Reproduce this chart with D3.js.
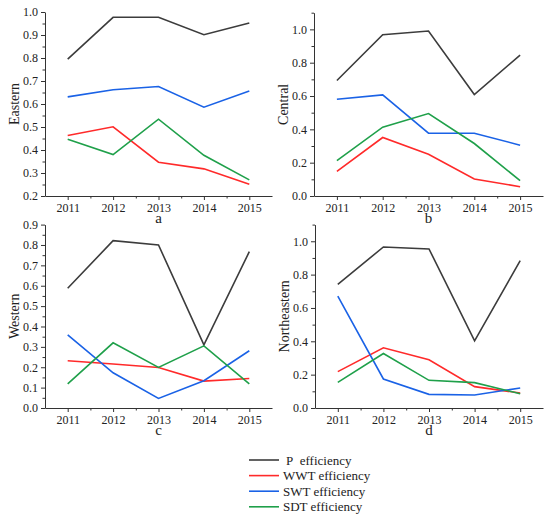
<!DOCTYPE html>
<html>
<head>
<meta charset="utf-8">
<script src="https://d3js.org/d3.v7.min.js"></script>
<style>
  body { margin: 0; background: #fff; }
</style>
</head>
<body>
<div id="chart"></div>
<script>
var serif = "'Liberation Serif', 'Times New Roman', 'DejaVu Serif', serif";

// years on the x axis
var years = [2011, 2012, 2013, 2014, 2015];

// series names + colours
var seriesNames = ["P\u00a0\u00a0efficiency", "WWT efficiency", "SWT efficiency", "SDT efficiency"];
var seriesColors = ["#3c3c3c", "#ff2a2a", "#1a62e6", "#1fa04a"];

// panel a - Eastern
var eastP   = [0.795, 0.977, 0.977, 0.901, 0.952];
var eastWWT = [0.463, 0.501, 0.347, 0.318, 0.251];
var eastSWT = [0.631, 0.662, 0.676, 0.586, 0.656];
var eastSDT = [0.447, 0.380, 0.534, 0.377, 0.270];

// panel b - Central
var centP   = [0.693, 0.968, 0.990, 0.609, 0.846];
var centWWT = [0.148, 0.351, 0.251, 0.102, 0.056];
var centSWT = [0.581, 0.607, 0.377, 0.377, 0.305];
var centSDT = [0.212, 0.413, 0.495, 0.315, 0.092];

// panel c - Western
var westP   = [0.588, 0.821, 0.800, 0.310, 0.767];
var westWWT = [0.232, 0.216, 0.199, 0.132, 0.145];
var westSWT = [0.359, 0.173, 0.047, 0.134, 0.281];
var westSDT = [0.118, 0.320, 0.199, 0.305, 0.118];

// panel d - Northeastern
var neP   = [0.741, 0.966, 0.954, 0.403, 0.884];
var neWWT = [0.218, 0.361, 0.289, 0.128, 0.090];
var neSWT = [0.671, 0.174, 0.082, 0.078, 0.120];
var neSDT = [0.154, 0.327, 0.166, 0.152, 0.086];

var panels = [
  {name: "Eastern", letter: "a", x0: 45, x1: 272, y0: 12, y1: 196, yDom: [0.2, 1.0], step: 0.1,
   series: [eastP, eastWWT, eastSWT, eastSDT]},
  {name: "Central", letter: "b", x0: 314, x1: 543, y0: 12.7, y1: 196, yDom: [0, 1.1], step: 0.2,
   series: [centP, centWWT, centSWT, centSDT]},
  {name: "Western", letter: "c", x0: 45, x1: 272, y0: 224.6, y1: 408, yDom: [0, 0.9], step: 0.1,
   series: [westP, westWWT, westSWT, westSDT]},
  {name: "Northeastern", letter: "d", x0: 315, x1: 543, y0: 224.6, y1: 408, yDom: [0, 1.1], step: 0.2,
   series: [neP, neWWT, neSWT, neSDT]}
];

var svg = d3.select("#chart").append("svg")
    .attr("width", 550)
    .attr("height", 524);

panels.forEach(function(p) {
  var x = d3.scaleLinear().domain([2010.5, 2015.5]).range([p.x0, p.x1]);
  var y = d3.scaleLinear().domain(p.yDom).range([p.y1, p.y0]);

  var g = svg.append("g");

  var yTicks = d3.range(p.yDom[0], p.yDom[1] + 1e-9, p.step).map(function(v) { return +v.toFixed(2); });
  var yMinor = d3.range(p.yDom[0] + p.step / 2, p.yDom[1] + 1e-9, p.step);
  var xMinor = [2011.5, 2012.5, 2013.5, 2014.5];

  // minor ticks
  g.append("g").attr("class", "axis")
    .attr("transform", "translate(" + p.x0 + ",0)")
    .call(d3.axisLeft(y).tickValues(yMinor).tickSize(2.5).tickFormat(""))
    .select(".domain").remove();
  g.append("g").attr("class", "axis")
    .attr("transform", "translate(0," + p.y1 + ")")
    .call(d3.axisBottom(x).tickValues(xMinor).tickSize(2.5).tickFormat(""))
    .select(".domain").remove();

  var yAxis = g.append("g").attr("class", "axis")
    .attr("transform", "translate(" + p.x0 + ",0)")
    .call(d3.axisLeft(y).tickValues(yTicks).tickSize(4).tickSizeOuter(0).tickPadding(3)
      .tickFormat(d3.format(".1f")));

  var xAxis = g.append("g").attr("class", "axis")
    .attr("transform", "translate(0," + p.y1 + ")")
    .call(d3.axisBottom(x).tickValues(years).tickSize(4).tickSizeOuter(0).tickPadding(3)
      .tickFormat(d3.format("d")));

  g.selectAll(".axis").attr("font-family", serif);
  g.selectAll(".axis text").attr("font-family", serif).attr("font-size", 12).attr("fill", "#222");
  g.selectAll(".axis path, .axis line").attr("stroke", "#333").attr("stroke-width", 1);

  // lines
  var line = d3.line()
    .x(function(d, i) { return x(years[i]); })
    .y(function(d) { return y(d); });

  p.series.forEach(function(s, i) {
    g.append("path")
      .datum(s)
      .attr("d", line)
      .attr("fill", "none")
      .attr("stroke", seriesColors[i])
      .attr("stroke-width", 1.6);
  });

  // y title
  g.append("text")
    .attr("transform", "translate(" + (p.x0 - 26) + "," + ((p.y0 + p.y1) / 2) + ") rotate(-90)")
    .attr("text-anchor", "middle")
    .attr("font-family", serif)
    .attr("font-size", 14)
    .attr("fill", "#222")
    .text(p.name);

  // panel letter
  g.append("text")
    .attr("x", (p.x0 + p.x1) / 2)
    .attr("y", p.y1 + 27)
    .attr("text-anchor", "middle")
    .attr("font-family", serif)
    .attr("font-size", 15)
    .attr("fill", "#222")
    .text(p.letter);
});

// legend
var legend = svg.append("g");
seriesNames.forEach(function(n, i) {
  var yy = 460 + i * 15.6;
  legend.append("line")
    .attr("x1", 249).attr("x2", 279)
    .attr("y1", yy).attr("y2", yy)
    .attr("stroke", seriesColors[i])
    .attr("stroke-width", 1.6);
  legend.append("text")
    .attr("x", i == 0 ? 286 : 283)
    .attr("y", yy + 4.5)
    .attr("font-family", serif)
    .attr("font-size", 13)
    .attr("fill", "#222")
    .text(n);
});
</script>
</body>
</html>
